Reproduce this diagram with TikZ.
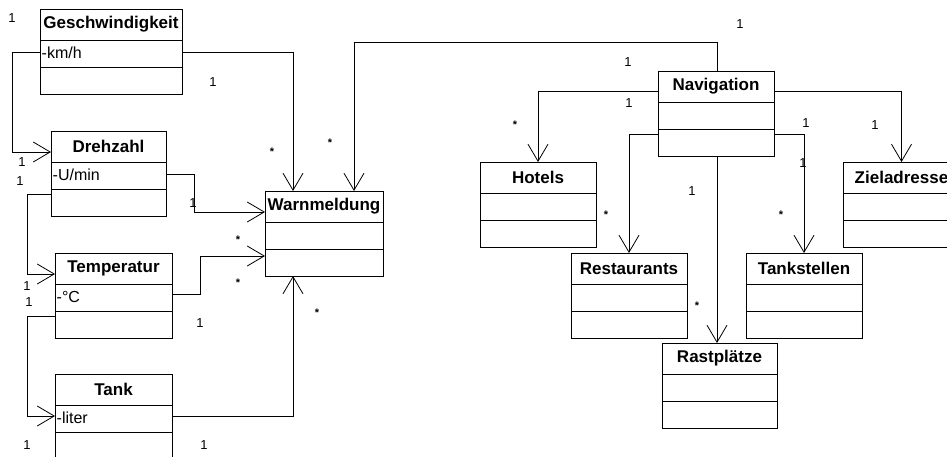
\documentclass[tikz,border=0pt]{standalone}
\usepackage{fontspec}
\setmainfont{Liberation Sans}
\usetikzlibrary{arrows.meta,calc}
\tikzset{
  classbox/.style={draw, line width=1pt, minimum height=85pt, anchor=north west, inner sep=0pt, outer sep=0pt},
  classtitle/.style={inner sep=0pt, font=\bfseries\fontsize{17}{17}\selectfont},
  classattr/.style={inner sep=0pt, anchor=west, font=\fontsize{16}{16}\selectfont},
  mult/.style={inner sep=0pt, font=\fontsize{13}{13}\selectfont},
  star/.style={inner sep=0pt, font=\bfseries\fontsize{11}{11}\selectfont},
  assoc/.style={line width=1pt, -{Straight Barb[length=17pt,width=20pt,line width=0.8pt]}},
  divline/.style={line width=1pt}
}
\newcommand{\umlclass}[7][85]{%
  \node[classbox, minimum width=#5pt, minimum height=#1pt] (#2) at (#3,#4) {};
  \draw[divline] ([yshift=-31pt]#2.north west) -- ([yshift=-31pt]#2.north east);
  \draw[divline] ([yshift=-58pt]#2.north west) -- ([yshift=-58pt]#2.north east);
  \node[classtitle] (#2-t) at ([yshift=-15.5pt]#2.north) {#6};
  \node[classattr] (#2-a) at ([yshift=-43.5pt,xshift=1.5pt]#2.north west) {#7};
}
\begin{document}
\begin{tikzpicture}[x=1pt,y=-1pt]
\useasboundingbox (0,0) rectangle (947,456);
\fill[white] (0,0) rectangle (947,456);
\begin{scope}
\clip (0,0) rectangle (947,456);
% classes
\umlclass{geo}{40}{9}{142}{Geschwindigkeit}{-km/h}
\umlclass{dreh}{51}{131}{115}{Drehzahl}{-U/min}
\umlclass{temp}{55}{253}{117}{Temperatur}{-°C}
\umlclass[92]{tank}{55}{374}{117}{Tank}{-liter}
\umlclass{warn}{265}{191}{118}{Warnmeldung}{}
\umlclass{nav}{658}{71}{116}{Navigation}{}
\umlclass{hotels}{480}{162}{116}{Hotels}{}
\umlclass{ziel}{843}{162}{117}{Zieladresse}{}
\umlclass{rest}{571}{253}{116}{Restaurants}{}
\umlclass{tanks}{746}{253}{116}{Tankstellen}{}
\umlclass{rast}{662}{343}{115}{Rastplätze}{}

% connectors, left part
\draw[assoc] ($(geo.north east)+(0,43)$) -| ($(warn.north west)+(28,0)$);
\draw[assoc] ($(geo.north west)+(0,43)$) -- ++(-28,0) |- ($(dreh.north west)+(0,21)$);
\draw[assoc] ($(dreh.north east)+(0,43)$) -- ++(28,0) |- ($(warn.north west)+(0,21)$);
\draw[assoc] ($(dreh.north west)+(0,63)$) -- ++(-24,0) |- ($(temp.north west)+(0,21)$);
\draw[assoc] ($(temp.north east)+(0,41)$) -- ++(28,0) |- ($(warn.north west)+(0,65)$);
\draw[assoc] ($(temp.north west)+(0,63)$) -- ++(-28,0) |- ($(tank.north west)+(0,42)$);
\draw[assoc] ($(tank.north east)+(0,42)$) -| ($(warn.south west)+(28,0)$);

% connectors, navigation
\draw[assoc] ($(nav.north)+(1,0)$) -- ++(0,-29) -| ($(warn.north west)+(89,0)$);
\draw[assoc] ($(nav.north west)+(0,20)$) -| (hotels.north);
\draw[assoc] ($(nav.north east)+(0,20)$) -| (ziel.north);
\draw[assoc] ($(nav.north west)+(0,63)$) -| (rest.north);
\draw[assoc] ($(nav.north east)+(0,63)$) -| (tanks.north);
\draw[assoc] ($(nav.south)+(1,0)$) -- ($(nav.south |- rast.north)+(1,0)$);

% multiplicities
\node[mult] (m1) at (12,18) {1};
\node[mult] (m2) at (213,82) {1};
\node[star] (s1) at (272,152) {*};
\node[star] (s2) at (330,143) {*};
\node[mult] (m3) at (22,162) {1};
\node[mult] (m4) at (20,181) {1};
\node[mult] (m5) at (193,203) {1};
\node[star] (s3) at (238,240) {*};
\node[star] (s4) at (238,283) {*};
\node[mult] (m6) at (27,286) {1};
\node[mult] (m7) at (29,302) {1};
\node[mult] (m8) at (200,323) {1};
\node[star] (s5) at (317,313) {*};
\node[mult] (m9) at (27,445) {1};
\node[mult] (m10) at (204,445) {1};
\node[mult] (m11) at (740,24) {1};
\node[mult] (m12) at (628,62) {1};
\node[mult] (m13) at (629,103) {1};
\node[star] (s6) at (515,125) {*};
\node[mult] (m14) at (806,123) {1};
\node[mult] (m15) at (875,125) {1};
\node[mult] (m16) at (803,163) {1};
\node[mult] (m17) at (692,191) {1};
\node[star] (s7) at (606,215) {*};
\node[star] (s8) at (781,215) {*};
\node[star] (s9) at (697,306) {*};
\end{scope}
\end{tikzpicture}
\end{document}
